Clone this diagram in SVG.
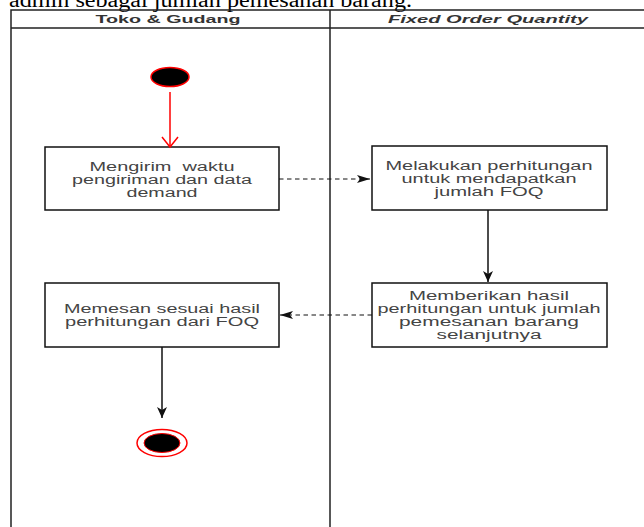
<svg xmlns="http://www.w3.org/2000/svg" width="644" height="527" viewBox="0 0 644 527">
  <style>
    .lane { fill: none; stroke: #222; stroke-width: 1.5; }
    .box { fill: #fff; stroke: #111; stroke-width: 1.5; }
    .t { font-family: "Liberation Sans", Arial, sans-serif; font-size: 12.5px; fill: #444; text-anchor: middle; white-space: pre; }
    .h { font-family: "Liberation Sans", Arial, sans-serif; font-size: 11px; font-weight: bold; fill: #333; text-anchor: middle; }
    .solid { fill: none; stroke: #111; stroke-width: 1.5; }
    .dash { fill: none; stroke: #111; stroke-width: 1; stroke-dasharray: 4.5 3.5; }
    .red { fill: none; stroke: #f00; stroke-width: 1.5; }
  </style>
  <defs>
    <marker id="arr" markerWidth="12" markerHeight="10" refX="11" refY="5" orient="auto" markerUnits="userSpaceOnUse">
      <path d="M0,0 L11,5 L0,10 L3,5 Z" fill="#111"/>
    </marker>
    <marker id="arrSmall" markerWidth="14" markerHeight="8" refX="13" refY="4" orient="auto" markerUnits="userSpaceOnUse">
      <path d="M0,0 L13,4 L0,8 L3,4 Z" fill="#111"/>
    </marker>
  </defs>
  <rect width="644" height="527" fill="#fff"/>
  <text x="9" y="7" font-family="'Liberation Serif', 'Times New Roman', serif" font-size="20" fill="#000" textLength="403" lengthAdjust="spacingAndGlyphs">admin sebagai jumlah pemesanan barang.</text>

  <g id="lanes">
    <path class="lane" d="M11,527 V10 H644 M11,28 H644 M330,10 V527"/>
    <text class="h" x="168" y="23" textLength="145" lengthAdjust="spacingAndGlyphs">Toko &amp; Gudang</text>
    <text class="h" x="488" y="23" font-style="italic" textLength="200" lengthAdjust="spacingAndGlyphs">Fixed Order Quantity</text>
  </g>

  <g id="start">
    <ellipse cx="170" cy="77" rx="19" ry="9.5" fill="#000" stroke="#f00" stroke-width="1.5"/>
  </g>

  <g id="node1">
    <rect class="box" x="45" y="147" width="234" height="63"/>
    <text class="t" x="162" y="170.5" textLength="145" lengthAdjust="spacingAndGlyphs" xml:space="preserve">Mengirim  waktu</text>
    <text class="t" x="162" y="183.5" textLength="180" lengthAdjust="spacingAndGlyphs">pengiriman dan data</text>
    <text class="t" x="162" y="196.5" textLength="71" lengthAdjust="spacingAndGlyphs">demand</text>
  </g>

  <g id="node2">
    <rect class="box" x="372" y="146" width="235" height="64"/>
    <text class="t" x="489" y="170" textLength="207" lengthAdjust="spacingAndGlyphs">Melakukan perhitungan</text>
    <text class="t" x="489" y="183" textLength="175" lengthAdjust="spacingAndGlyphs">untuk mendapatkan</text>
    <text class="t" x="489" y="196" textLength="109" lengthAdjust="spacingAndGlyphs">jumlah FOQ</text>
  </g>

  <g id="node3">
    <rect class="box" x="372" y="283" width="235" height="64"/>
    <text class="t" x="489" y="300" textLength="160" lengthAdjust="spacingAndGlyphs">Memberikan hasil</text>
    <text class="t" x="489" y="313" textLength="223" lengthAdjust="spacingAndGlyphs">perhitungan untuk jumlah</text>
    <text class="t" x="489" y="326" textLength="180" lengthAdjust="spacingAndGlyphs">pemesanan barang</text>
    <text class="t" x="489" y="339" textLength="105" lengthAdjust="spacingAndGlyphs">selanjutnya</text>
  </g>

  <g id="node4">
    <rect class="box" x="45" y="283" width="234" height="64"/>
    <text class="t" x="162" y="313" textLength="196" lengthAdjust="spacingAndGlyphs">Memesan sesuai hasil</text>
    <text class="t" x="162" y="326" textLength="194" lengthAdjust="spacingAndGlyphs">perhitungan dari FOQ</text>
  </g>

  <g id="end">
    <ellipse cx="162" cy="443" rx="25" ry="13.5" fill="#fff" stroke="#f00" stroke-width="1.5"/>
    <ellipse cx="162" cy="443" rx="18" ry="9.5" fill="#000" stroke="#f00" stroke-width="1"/>
  </g>

  <g id="connectors">
    <path class="red" d="M170,92 V147"/>
    <path class="red" d="M162,137 L170,147 L178,137"/>
    <path class="dash" d="M279,179 H370" marker-end="url(#arrSmall)"/>
    <path class="solid" d="M488,210 V282" marker-end="url(#arr)"/>
    <path class="dash" d="M372,315 H280" marker-end="url(#arrSmall)"/>
    <path class="solid" d="M162,347 V418" marker-end="url(#arr)"/>
  </g>
</svg>
